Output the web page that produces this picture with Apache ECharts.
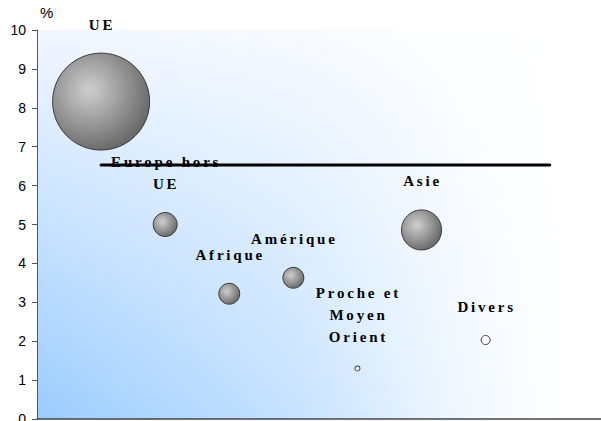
<!DOCTYPE html>
<html>
<head>
<meta charset="utf-8">
<script src="https://cdn.jsdelivr.net/npm/echarts@6/dist/echarts.min.js"></script>
<style>
html,body{margin:0;padding:0;background:#fff;}
#chart{width:601px;height:421px;}
#chart text[style*="Serif"], #chart text[font-family*="Serif"]{letter-spacing:2.8px;}
</style>
</head>
<body>
<div id="chart"></div>
<script>
// Data
var regions = ['UE', 'Europe hors\nUE', 'Afrique', 'Amérique', 'Proche et\nMoyen\nOrient', 'Asie', 'Divers'];
var xPos    = [1, 2, 3, 4, 5, 6, 7];
var yValues = [8.16, 5.0, 3.22, 3.63, 1.3, 4.86, 2.03];
var shares  = [75, 4.6, 3.5, 3.5, 0.2, 12.8, 0.65];
var refLineX = [1, 8];
var refLineY = 6.53;
var yTicks = [0, 1, 2, 3, 4, 5, 6, 7, 8, 9, 10];

var bubbleGrad = {
  type: 'radial', x: 0.38, y: 0.38, r: 0.68,
  colorStops: [
    {offset: 0, color: '#cfcfcf'},
    {offset: 0.5, color: '#9a9a9a'},
    {offset: 1, color: '#646464'}
  ]
};

var bubbleData = regions.map(function (name, i) {
  var item = {name: name, value: [xPos[i], yValues[i], shares[i]]};
  if (shares[i] < 1) {
    item.itemStyle = {color: '#ffffff'};
  }
  return item;
});

var chart = echarts.init(document.getElementById('chart'), null, {renderer: 'svg'});
chart.setOption({
  animation: false,
  backgroundColor: '#ffffff',
  grid: {
    left: 37, right: 0, top: 30, bottom: 2,
    outerBoundsMode: 'none', containLabel: false,
    show: true, borderWidth: 0,
    backgroundColor: {
      type: 'linear', x: 0, y: 0, x2: 0, y2: 1,
      colorStops: [
        {offset: 0, color: '#f2f7ff'},
        {offset: 1, color: '#9bccff'}
      ]
    }
  },
  graphic: [{
    type: 'rect', z: 1, left: 37, top: 30,
    shape: {width: 564, height: 389},
    style: {
      fill: {
        type: 'linear', x: 0, y: 0, x2: 1, y2: 0,
        colorStops: [
          {offset: 0, color: 'rgba(255,255,255,0)'},
          {offset: 0.45, color: 'rgba(255,255,255,0.42)'},
          {offset: 0.75, color: 'rgba(255,255,255,0.85)'},
          {offset: 0.93, color: 'rgba(255,255,255,1)'},
          {offset: 1, color: 'rgba(255,255,255,1)'}
        ]
      }
    },
    silent: true
  }],
  xAxis: {
    type: 'value', min: 0, max: 8.8, z: 3,
    axisLine: {show: true, onZero: false, lineStyle: {color: '#444', width: 1.5}},
    axisTick: {show: false},
    axisLabel: {show: false},
    splitLine: {show: false}
  },
  yAxis: {
    type: 'value', min: yTicks[0], max: yTicks[yTicks.length - 1], interval: 1, z: 3,
    name: '%', nameLocation: 'end', nameGap: 10,
    nameTextStyle: {fontFamily: 'Liberation Sans', fontSize: 15, color: '#000', align: 'left', padding: [0, 0, 0, 3]},
    axisLine: {show: true, lineStyle: {color: '#555', width: 1}},
    axisTick: {show: true, inside: false, length: 5, lineStyle: {color: '#555'}},
    axisLabel: {fontFamily: 'Liberation Sans', fontSize: 14, color: '#000', margin: 11},
    splitLine: {show: false}
  },
  series: [
    {
      type: 'line', z: 4,
      data: [[refLineX[0], refLineY], [refLineX[1], refLineY]],
      symbol: 'none',
      lineStyle: {color: '#000', width: 3, cap: 'round'},
      silent: true
    },
    {
      type: 'scatter', z: 5,
      data: bubbleData,
      symbolSize: function (v) { return 97 * Math.sqrt(v[2] / 75); },
      itemStyle: {color: bubbleGrad, borderColor: '#3a3a3a', borderWidth: 1, opacity: 1},
      label: {
        show: true, position: 'top', distance: 17,
        formatter: function (p) { return p.name; },
        fontFamily: 'Liberation Serif', fontWeight: 'bold', fontSize: 15,
        lineHeight: 22, color: '#000', align: 'center', offset: [1, 0]
      }
    }
  ]
});
</script>
</body>
</html>
